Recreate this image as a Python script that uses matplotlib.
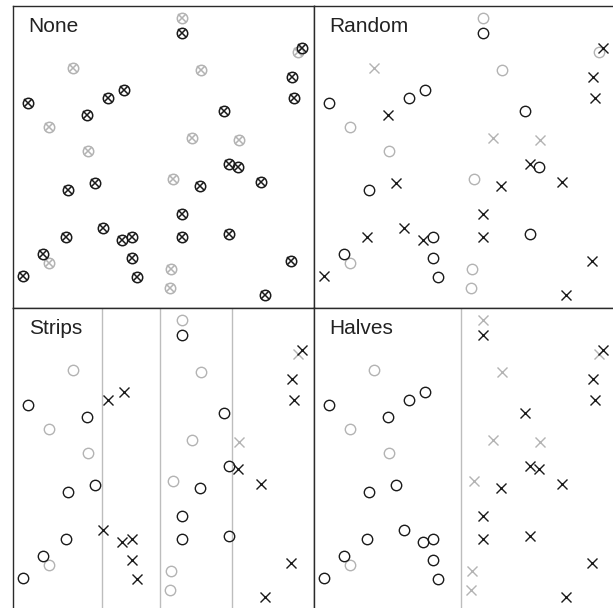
from matplotlib import pyplot as plt
import numpy as np

# point positions (same points in every panel)
xs = [169, 169, 285, 289, 60.6, 188.3, 279, 111.3, 95, 15.6,
      281.3, 74, 211.3, 36.3, 179.6, 226.6, 75, 216.3, 225.6, 82.3,
      55.6, 160.6, 187.3, 248.3, 169, 90.6, 53, 169, 216.6, 119.6,
      109, 30, 36.6, 119, 278, 10.6, 124, 158.3, 157.3, 252.3]
ys = [289.4, 274.4, 256, 259.4, 239.4, 237.7, 230.4, 217.7, 210, 205,
      209.4, 192.7, 197, 181, 169.4, 167.7, 157, 143.4, 140.4, 125,
      117.7, 128.7, 122, 126, 93.4, 80, 70.4, 71, 73.7, 71,
      67.7, 53.7, 45, 50, 47, 31.7, 30.4, 38.4, 19.4, 12.7]
# 1 = held out (grey), 0 = used (black)
heldOut = [1, 0, 1, 0, 1, 1, 0, 0, 0, 0,
           0, 0, 0, 1, 1, 1, 1, 0, 0, 0,
           0, 1, 0, 0, 0, 0, 0, 0, 0, 0,
           0, 0, 1, 0, 0, 0, 0, 1, 1, 0]
# fold for the random split: 0 = circle, 1 = cross
randomFold = [0, 0, 0, 1, 1, 0, 1, 0, 0, 0,
              1, 1, 0, 0, 1, 1, 0, 1, 0, 1,
              0, 0, 1, 1, 1, 1, 1, 1, 0, 0,
              1, 0, 0, 0, 1, 1, 0, 0, 0, 1]
stripEdges = [89, 147.3, 219.6]
halfEdge = [147.3]

titles = ['None', 'Random', 'Strips', 'Halves']

black = '#1a1a1a'
grey = '#b3b3b3'

W, H = 613, 608
panelW, panelH = 301, 302
left0, top0 = 12.7, 5.7

fig = plt.figure(figsize=(W / 100., H / 100.), dpi=100)

xs = np.array(xs)
ys = np.array(ys)
heldOut = np.array(heldOut)

def panelAxes(row, col):
  left = (left0 + col * panelW) / W
  bottom = (H - top0 - (row + 1) * panelH) / H
  ax = fig.add_axes([left, bottom, panelW / float(W), panelH / float(H)])
  ax.set_xlim(0, panelW)
  ax.set_ylim(0, panelH)
  ax.set_xticks([])
  ax.set_yticks([])
  for s in ax.spines.values():
    s.set_color('#2a2a2a')
    s.set_linewidth(1.0)
  return ax

def drawPoints(ax, fold, both=False):
  # grey first so black sits on top
  for held, colour in ((1, grey), (0, black)):
    for f, marker in ((0, 'o'), (1, 'x')):
      sel = (heldOut == held) & (fold == f)
      if both:
        ax.plot(xs[sel], ys[sel], 'o', ms=7.5, mfc='none', mec=colour, mew=1.1)
        ax.plot(xs[sel], ys[sel], 'x', ms=5.5, mec=colour, mew=1.1)
      else:
        ax.plot(xs[sel], ys[sel], marker, ms=7.5, mfc='none', mec=colour, mew=1.0)

folds = [np.zeros(len(xs), dtype=int),
         np.array(randomFold),
         np.digitize(xs, stripEdges) % 2,
         np.digitize(xs, halfEdge)]
edges = [[], [], stripEdges, halfEdge]

for i, title in enumerate(titles):
  ax = panelAxes(i // 2, i % 2)
  for e in edges[i]:
    ax.axvline(e, color='#bdbdbd', lw=1.0, zorder=0)
  drawPoints(ax, folds[i], both=(i == 0))
  ax.text(16. / panelW, 1 - 26.6 / panelH, title, transform=ax.transAxes,
          fontsize=15, family='Liberation Sans', color='#222222', va='baseline')

plt.savefig('out.png', dpi=100)
